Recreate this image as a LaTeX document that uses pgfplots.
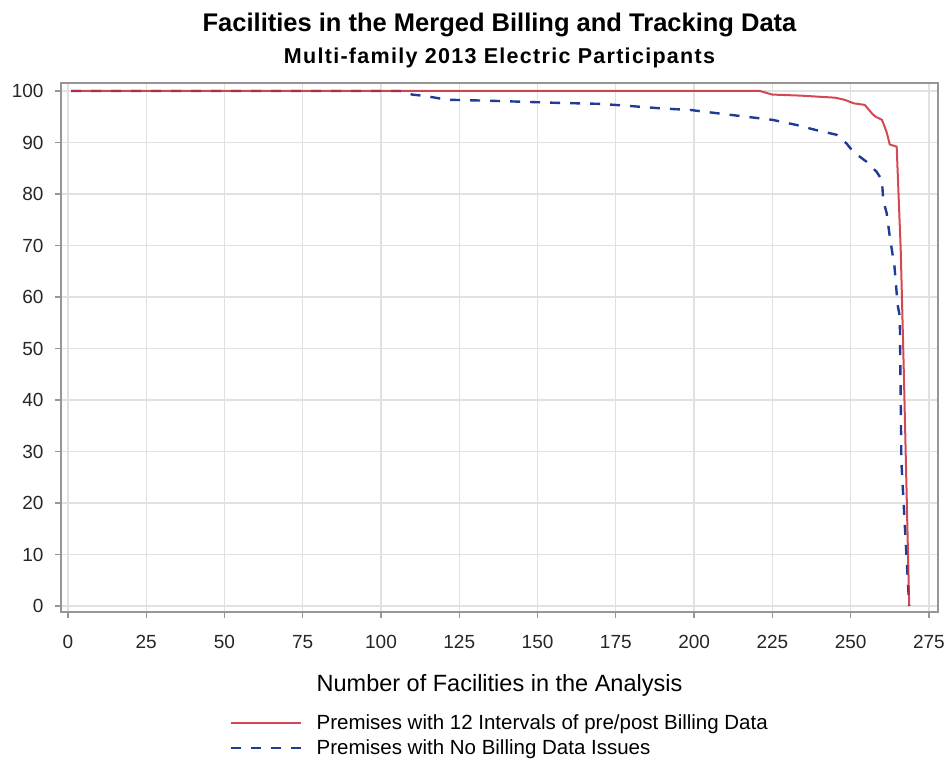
\documentclass[border=0pt]{standalone}
\usepackage{fontspec}
\setmainfont{Liberation Sans}
\usepackage{pgfplots}
\pgfplotsset{compat=1.18}
\definecolor{redl}{RGB}{205,40,55}
\definecolor{bluel}{RGB}{30,60,150}
\definecolor{framec}{RGB}{150,150,150}
\definecolor{gridc}{RGB}{225,225,225}
\begin{document}
\begin{tikzpicture}
\begin{axis}[
  name=ax,
  scale only axis,
  width=877pt, height=529pt,
  xmin=-2.2, xmax=277.9,
  ymin=-1.17, ymax=101.55,
  xtick={0,25,...,275},
  ytick={0,10,...,100},
  grid=major,
  major grid style={gridc, line width=1.3pt},
  axis line style={framec, line width=1.5pt},
  tick style={framec, line width=1.3pt},
  tick align=outside,
  major tick length=6pt,
  xtick pos=bottom, ytick pos=left,
  /pgf/number format/assume math mode=true,
  tick label style={font=\fontsize{19}{22}\selectfont, text=black!85},
  xticklabel style={yshift=-14pt},
  yticklabel style={xshift=-8pt},
  xlabel={Number of Facilities in the Analysis},
  xlabel style={font=\fontsize{23.5}{27}\selectfont, yshift=-19pt},
  title={\fontsize{25.5}{30}\selectfont\bfseries Facilities in the Merged Billing and Tracking Data\\[10pt]\fontsize{21.5}{26}\selectfont\bfseries\addfontfeature{LetterSpace=6}Multi-family 2013 Electric Participants},
  title style={align=center, yshift=6pt},
  reverse legend,
  legend style={at={(0.1927,-0.186)}, anchor=north west, draw=none, fill=none,
    font=\fontsize{20.5}{24}\selectfont, row sep=5pt, inner xsep=0pt},
  legend cell align=left,
  legend image code/.code={\draw[#1] (0pt,0pt) -- (70pt,0pt); \path (82pt,0pt);},
]
\addplot[bluel, line width=2.4pt, dash pattern=on 10pt off 10pt] coordinates {
(1,100)(106,100)(110,99.3)(114.5,99.0)(121,98.3)(135,98.1)(156,97.7)(170,97.5)(177,97.2)
(190,96.6)(199,96.3)(203,96.0)(212.5,95.3)(225,94.4)(232.7,93.4)(239,92.4)(245.5,91.5)
(248.7,89.8)(250.8,88.2)(255,86.3)(258.3,84.3)(260,82.7)(260.4,78.8)(261.5,76.3)(262.5,71.7)
(264,65.9)(265,58.5)(265.7,56.2)(266.2,28)(268.7,0)
};
\addlegendentry{Premises with No Billing Data Issues}
\addplot[redl, line width=2pt, opacity=0.85] coordinates {
(1,100)(221,100)(225,99.3)(234,99.1)(245,98.7)(248,98.3)(251,97.6)(254.5,97.3)(257,95.5)
(258,95)(260,94.4)(261.5,92)(262.5,89.6)(264.7,89.2)(266,69)(267,45)(268.7,0)
};
\addlegendentry{Premises with 12 Intervals of pre/post Billing Data}
\end{axis}
\pgfresetboundingbox
\path[use as bounding box] (-61pt,-152pt) rectangle (886pt,612pt);
\end{tikzpicture}
\end{document}
